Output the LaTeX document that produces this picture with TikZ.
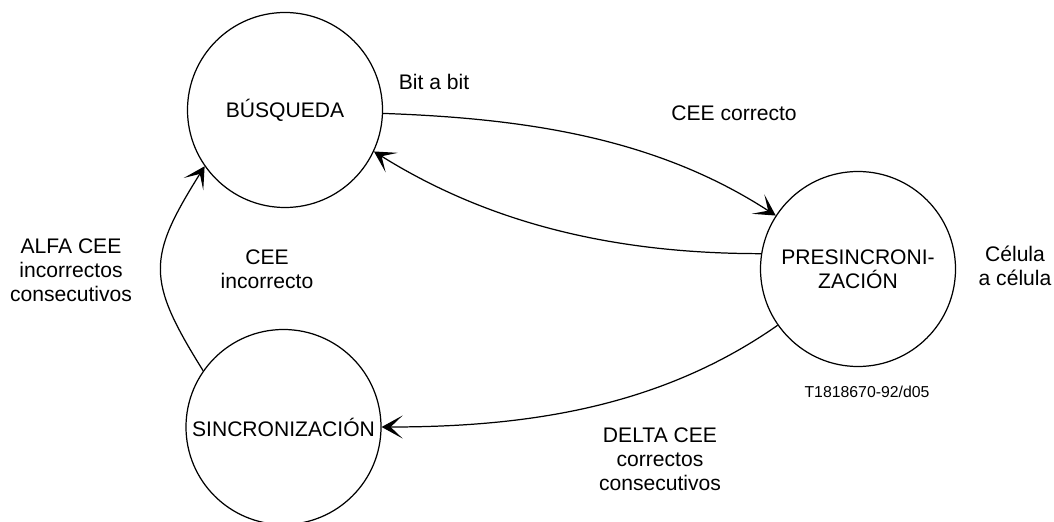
\documentclass[tikz,border=0pt]{standalone}
\usepackage{fontspec}
\setmainfont{Liberation Sans}
\usetikzlibrary{arrows.meta}
\tikzset{
    estado/.style={
        circle, draw, line width=0.7pt, minimum size=3.9cm, inner sep=0pt,
        align=center
    },
    transicion/.style={
        line width=0.7pt,
        -{Stealth[length=0.42cm, width=0.46cm, inset=0.24cm]}
    },
    etiqueta/.style={align=center}
}

\begin{document}
\begin{tikzpicture}[font=\fontsize{12}{13.8}\selectfont]

    \useasboundingbox (0,0) rectangle (21.08,10.42);

    % Dibujar estados
    \node[estado] (busqueda) at (5.70,8.22) {BÚSQUEDA};
    \node[estado] (presinc) at (17.16,5.04) {PRESINCRONI-\\ZACIÓN};
    \node[estado] (sinc) at (5.67,1.88) {SINCRONIZACIÓN};

    % Transiciones entre estados
    \draw[transicion] (busqueda.-2) to[out=-2, in=147, looseness=0.9] (presinc.147);
    \draw[transicion] (presinc.171) to[out=180, in=-32, looseness=0.9] (busqueda.-25);
    \draw[transicion] (sinc.145) to[out=122, in=238, looseness=1.35] (busqueda.215);
    \draw[transicion] (presinc.215) to[out=215, in=0, looseness=0.9] (sinc.0);

    % Etiquetas
    \node[etiqueta] (bitabit) at (8.68,8.78) {Bit a bit};
    \node[etiqueta] (correcto) at (14.68,8.16) {CEE correcto};
    \node[etiqueta] (incorrecto) at (5.34,5.04) {CEE\\incorrecto};
    \node[etiqueta] (alfa) at (1.42,5.02) {ALFA CEE\\incorrectos\\consecutivos};
    \node[etiqueta] (celula) at (20.30,5.10) {Célula\\a célula};
    \node[etiqueta] (delta) at (13.20,1.24) {DELTA CEE\\correctos\\consecutivos};
    \node[font=\fontsize{9}{11}\selectfont] (ref) at (17.34,2.58) {T1818670-92/d05};

\end{tikzpicture}
\end{document}
